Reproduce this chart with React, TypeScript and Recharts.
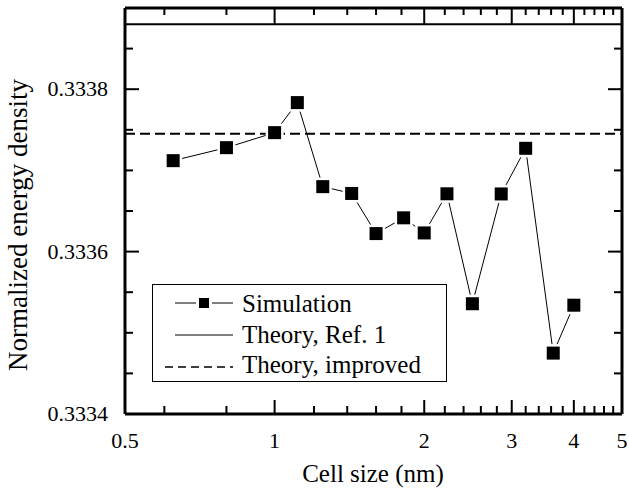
import React from "react";
import {
  LineChart,
  Line,
  XAxis,
  YAxis,
  ReferenceLine,
  Legend,
  Label,
} from "recharts";

// cell size (nm) and simulated normalized energy density
const cellSizes = [0.625, 0.8, 1.0, 1.111, 1.25, 1.429, 1.6, 1.818, 2.0, 2.222, 2.5, 2.857, 3.2, 3.636, 4.0];
const simValues = [
  0.333712, 0.333728, 0.3337465, 0.3337835, 0.33368, 0.3336716, 0.3336222, 0.3336416,
  0.333623, 0.3336712, 0.3335358, 0.333671, 0.3337272, 0.333475, 0.333534,
];
const theoryImproved = 0.333745;

const xTicks = [0.5, 0.6, 0.8, 1, 1.2, 1.4, 1.6, 1.8, 2, 2.2, 2.4, 2.6, 2.8, 3, 3.2, 3.4, 3.6, 3.8, 4, 4.2, 4.4, 4.6, 4.8, 5];
const xLabels = [0.5, 1, 2, 3, 4, 5];
const yTicks = [0.3334, 0.33345, 0.3335, 0.33355, 0.3336, 0.33365, 0.3337, 0.33375, 0.3338, 0.33385, 0.3339];
const yLabels = ["0.3334", "0.3336", "0.3338"];
const bandValue = 0.33388; // lower edge of the top tick strip

const data = cellSizes.map((size, i) => ({ size, sim: simValues[i] }));

const FONT = "Liberation Serif";

const SText = ({ size, children, ...rest }: any) => (
  <text {...rest} fill="#000" fontFamily={FONT} fontSize={size} style={{ fontFamily: FONT, fontSize: size }}>
    {children}
  </text>
);

const isMajorX = (v: number) => Math.abs(v - Math.round(v)) < 1e-6;
const yIndex = (v: number) => Math.round((v - 0.3334) / 0.00005);

const BottomTick = ({ x, y, payload }: any) => {
  const v = payload.value;
  const len = isMajorX(v) ? 14 : 8;
  const lbl = xLabels.find((l) => Math.abs(l - v) < 1e-6);
  return (
    <g>
      <line x1={x} y1={y} x2={x} y2={y - len} stroke="#000" strokeWidth={2} />
      {lbl !== undefined && (
        <SText x={x} y={y + 34} textAnchor="middle" size={22}>
          {lbl}
        </SText>
      )}
    </g>
  );
};

const TopTick = ({ x, y, payload }: any) => {
  const len = isMajorX(payload.value) ? 16 : 7;
  return <line x1={x} y1={y} x2={x} y2={y + len} stroke="#000" strokeWidth={2} />;
};

const LeftTick = ({ x, y, payload }: any) => {
  const major = yIndex(payload.value) % 4 === 0;
  const lbl = major ? payload.value.toFixed(4) : null;
  return (
    <g>
      <line x1={x} y1={y} x2={x + (major ? 14 : 8)} y2={y} stroke="#000" strokeWidth={2} />
      {lbl && yLabels.includes(lbl) && (
        <SText x={x - 17} y={y + 7} textAnchor="end" size={22}>
          {lbl}
        </SText>
      )}
    </g>
  );
};

const RightTick = ({ x, y, payload }: any) => {
  const major = yIndex(payload.value) % 4 === 0;
  return <line x1={x} y1={y} x2={x - (major ? 14 : 8)} y2={y} stroke="#000" strokeWidth={2} />;
};

const SquareDot = (props: any) => {
  const { cx, cy, index } = props;
  return (
    <rect
      key={`dot-${index}`}
      x={cx - 6.5}
      y={cy - 6.5}
      width={13}
      height={13}
      fill="#000"
      stroke="#fff"
      strokeWidth={5}
      paintOrder="stroke"
    />
  );
};

const LegendBox = () => (
  <svg width={295} height={98} style={{ display: "block" }}>
    <rect x={0.5} y={0.5} width={294} height={97} fill="#fff" stroke="#000" strokeWidth={1} />
    <line x1={23} y1={19} x2={44} y2={19} stroke="#000" strokeWidth={1} />
    <line x1={60} y1={19} x2={81} y2={19} stroke="#000" strokeWidth={1} />
    <rect x={47} y={14} width={10} height={10} fill="#000" />
    <line x1={23} y1={51} x2={81} y2={51} stroke="#000" strokeWidth={1.2} />
    <line x1={13} y1={83} x2={81} y2={83} stroke="#000" strokeWidth={1.5} strokeDasharray="8 5" />
    <SText x={90} y={28} size={25}>Simulation</SText>
    <SText x={90} y={59} size={25}>Theory, Ref. 1</SText>
    <SText x={90} y={89} size={25}>Theory, improved</SText>
  </svg>
);

export default function App() {
  return (
    <div style={{ width: 629, height: 495, background: "#fff", fontFamily: FONT }}>
      <style>{"body{margin:0}"}</style>
      <LineChart width={629} height={495} data={data} margin={{ top: 0, right: 0, left: 0, bottom: 0 }}>
        <XAxis
          xAxisId="bottom"
          dataKey="size"
          type="number"
          scale="log"
          domain={[0.5, 5]}
          allowDataOverflow
          ticks={xTicks}
          interval={0}
          height={81}
          tickLine={false}
          tickSize={0}
          tickMargin={0}
          tick={<BottomTick />}
          axisLine={{ stroke: "#000", strokeWidth: 3 }}
        >
          <Label
            content={() => (
              <SText x={373} y={482} textAnchor="middle" size={25}>
                Cell size (nm)
              </SText>
            )}
          />
        </XAxis>
        <XAxis
          xAxisId="top"
          orientation="top"
          dataKey="size"
          type="number"
          scale="log"
          domain={[0.5, 5]}
          allowDataOverflow
          ticks={xTicks}
          interval={0}
          height={8}
          tickLine={false}
          tickSize={0}
          tickMargin={0}
          tick={<TopTick />}
          axisLine={{ stroke: "#000", strokeWidth: 3 }}
        />
        <YAxis
          yAxisId="left"
          type="number"
          domain={[0.3334, 0.3339]}
          allowDataOverflow
          ticks={yTicks}
          interval={0}
          width={125}
          tickLine={false}
          tickSize={0}
          tickMargin={0}
          tick={<LeftTick />}
          axisLine={{ stroke: "#000", strokeWidth: 3 }}
        >
          <Label
            content={() => (
              <SText x={27} y={225} transform="rotate(-90 27 225)" textAnchor="middle" size={27}>
                Normalized energy density
              </SText>
            )}
          />
        </YAxis>
        <YAxis
          yAxisId="right"
          orientation="right"
          type="number"
          domain={[0.3334, 0.3339]}
          allowDataOverflow
          ticks={yTicks}
          interval={0}
          width={7}
          tickLine={false}
          tickSize={0}
          tickMargin={0}
          tick={<RightTick />}
          axisLine={{ stroke: "#000", strokeWidth: 3 }}
        />
        <ReferenceLine xAxisId="bottom" yAxisId="left" y={bandValue} stroke="#000" strokeWidth={2} />
        <ReferenceLine
          xAxisId="bottom"
          yAxisId="left"
          y={theoryImproved}
          stroke="#000"
          strokeWidth={2}
          strokeDasharray="10 5"
        />
        <Line
          xAxisId="bottom"
          yAxisId="left"
          type="linear"
          dataKey="sim"
          stroke="#000"
          strokeWidth={1}
          dot={SquareDot}
          activeDot={false}
          isAnimationActive={false}
        />
        <Legend
          layout="vertical"
          align="center"
          verticalAlign="middle"
          content={() => <LegendBox />}
          wrapperStyle={{ left: 152, top: 284, width: 295, height: 98 }}
        />
      </LineChart>
    </div>
  );
}
